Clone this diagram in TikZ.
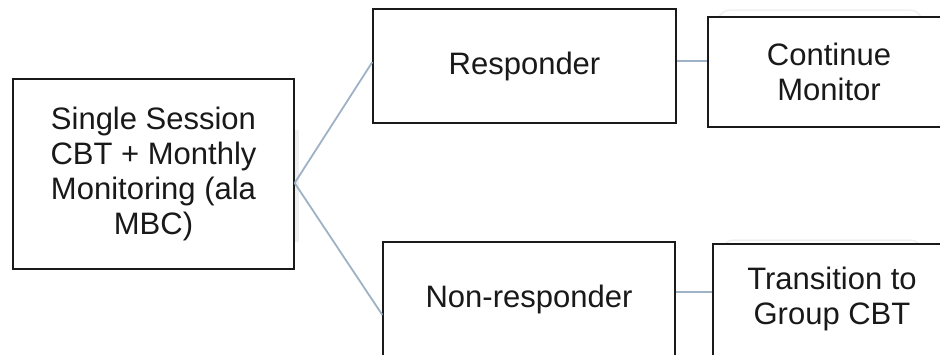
\documentclass[tikz,border=0pt]{standalone}
\usepackage{fontspec}
\setmainfont{Liberation Sans}
\definecolor{linkblue}{HTML}{9FB1C6}
\definecolor{boxline}{HTML}{1A1A1A}
\definecolor{ghost}{HTML}{EFEFEF}
\begin{document}
\begin{tikzpicture}[x=1pt,y=-1pt,
  box/.style={draw=boxline, line width=1.3pt, fill=white, rectangle, inner sep=0pt,
    align=center, font=\fontsize{31}{35}\selectfont, text=black!90},
  link/.style={draw=linkblue, line width=1.8pt}]
  \useasboundingbox (0,0) rectangle (940,354);
  \begin{scope}
    \clip (0,0) rectangle (940,354);
    % faint backdrop outlines behind the right-hand boxes
    \draw[ghost, line width=1.5pt, rounded corners=12pt] (718,10) rectangle (922,120);
    \draw[ghost, line width=1.5pt, rounded corners=12pt] (722,240) rectangle (922,354);
    \fill[ghost] (295,130) rectangle (299,242);

    \node[box, minimum width=281pt, minimum height=190pt] (start) at (153.5,174)
      {Single Session\\CBT + Monthly\\Monitoring (ala\\MBC)};
    \node[box, minimum width=303pt, minimum height=114pt] (resp) at (524.5,66) {Responder};
    \node[box, minimum width=242pt, minimum height=110pt] (cont) at (829,72) {Continue\\Monitor};
    \node[box, minimum width=292pt, minimum height=116pt] (nonresp) at (529,300) {};
    \node[font=\fontsize{31}{35}\selectfont, text=black!90] (nonresplabel) at (529,299) {Non-responder};
    \node[box, minimum width=238pt, minimum height=114pt] (trans) at (832,301) {};
    \node[align=center, font=\fontsize{31}{35}\selectfont, text=black!90] (translabel) at (832,299)
      {Transition to\\Group CBT};

    \coordinate (fork) at ([yshift=-9pt]start.east);
    \draw[link] (fork) -- ([yshift=4pt]resp.west);
    \draw[link] (fork) -- ([yshift=-15pt]nonresp.west);
    \draw[link] ([yshift=5pt]resp.east) -- ([yshift=5pt]resp.east -| cont.west);
    \draw[link] ([yshift=8pt]nonresp.east) -- ([yshift=8pt]nonresp.east -| trans.west);
  \end{scope}
\end{tikzpicture}
\end{document}
